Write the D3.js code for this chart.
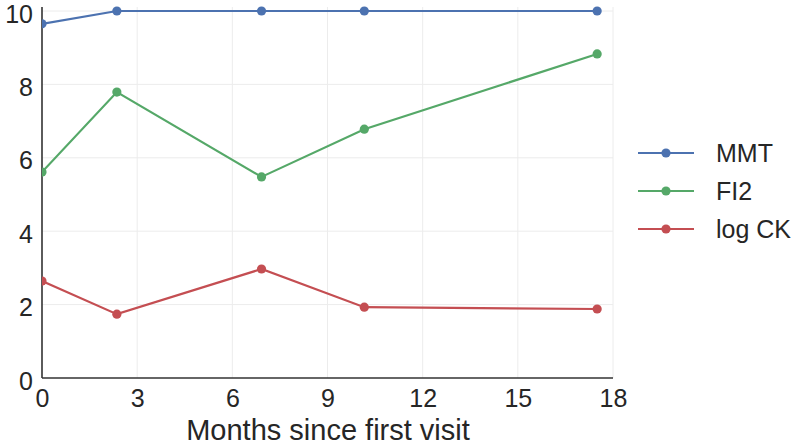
<!DOCTYPE html>
<html>
<head>
<meta charset="utf-8">
<script src="https://cdn.jsdelivr.net/npm/d3@7"></script>
<style>
  body { margin: 0; background: #fff; }
  text { font-family: "Liberation Sans", Arial, sans-serif; fill: #262626; }
</style>
</head>
<body>
<div id="chart"></div>
<script>
// data
const months = [0, 2.36, 6.92, 10.16, 17.5];
const mmt = [9.65, 10, 10, 10, 10];
const fi2 = [5.61, 7.79, 5.48, 6.78, 8.83];
const logCk = [2.64, 1.74, 2.97, 1.93, 1.88];
const seriesNames = ["MMT", "FI2", "log CK"];
const xTicks = [0, 3, 6, 9, 12, 15, 18];
const yTicks = [0, 2, 4, 6, 8, 10];

const colors = ["#4C72B0", "#55A868", "#C44E52"];
const series = [mmt, fi2, logCk];

const w = 800, h = 447;
const padLeft = 42, padRight = 613, padTop = 7, padBottom = 378;

const xScale = d3.scaleLinear().domain([0, 18]).range([padLeft, padRight]);
const yScale = d3.scaleLinear().domain([0, 10]).range([padBottom, 11]);

const svg = d3.select("#chart").append("svg")
  .attr("width", w).attr("height", h);

svg.append("clipPath").attr("id", "plot")
  .append("rect")
  .attr("x", padLeft).attr("y", 0)
  .attr("width", padRight - padLeft).attr("height", padBottom);

// grid
svg.append("g")
  .selectAll("line")
  .data(xTicks.slice(1))
  .enter().append("line")
  .attr("x1", d => xScale(d)).attr("x2", d => xScale(d))
  .attr("y1", padTop).attr("y2", padBottom)
  .attr("stroke", "#ececec").attr("stroke-width", 1);

svg.append("g")
  .selectAll("line")
  .data(yTicks.slice(1))
  .enter().append("line")
  .attr("x1", padLeft).attr("x2", padRight)
  .attr("y1", d => yScale(d)).attr("y2", d => yScale(d))
  .attr("stroke", "#ececec").attr("stroke-width", 1);

// axes
const xAxis = d3.axisBottom(xScale).tickValues(xTicks).tickSize(0).tickPadding(11);
const yAxis = d3.axisLeft(yScale).tickValues(yTicks).tickSize(0).tickPadding(9);

const gx = svg.append("g")
  .attr("transform", "translate(0," + padBottom + ")")
  .call(xAxis);
gx.select(".domain").remove();
gx.selectAll("text").style("font-size", "25px").attr("fill", "#262626");

const gy = svg.append("g")
  .attr("transform", "translate(" + padLeft + ",0)")
  .call(yAxis);
gy.select(".domain").remove();
gy.selectAll("text").style("font-size", "25px").attr("fill", "#262626")
  .attr("dy", "0.44em");

svg.append("line")
  .attr("x1", padLeft).attr("x2", padLeft).attr("y1", padTop).attr("y2", padBottom)
  .attr("stroke", "#333").attr("stroke-width", 1.6);
svg.append("line")
  .attr("x1", padLeft).attr("x2", padRight).attr("y1", padBottom).attr("y2", padBottom)
  .attr("stroke", "#333").attr("stroke-width", 1.6);

svg.append("text")
  .attr("x", 328).attr("y", 440)
  .attr("text-anchor", "middle")
  .style("font-size", "29px")
  .text("Months since first visit");

// lines and points
const line = d3.line().x((d, i) => xScale(months[i])).y(d => yScale(d));
const plot = svg.append("g").attr("clip-path", "url(#plot)");

series.forEach((vals, k) => {
  plot.append("path")
    .datum(vals)
    .attr("d", line)
    .attr("fill", "none")
    .attr("stroke", colors[k])
    .attr("stroke-width", 2.2);
  plot.selectAll("circle.s" + k)
    .data(vals)
    .enter().append("circle")
    .attr("class", "s" + k)
    .attr("cx", (d, i) => xScale(months[i]))
    .attr("cy", d => yScale(d))
    .attr("r", 4.6)
    .attr("fill", colors[k]);
});

// legend
const legend = svg.append("g");
seriesNames.forEach((name, k) => {
  const y = 153 + k * 38;
  legend.append("line")
    .attr("x1", 638).attr("x2", 694).attr("y1", y).attr("y2", y)
    .attr("stroke", colors[k]).attr("stroke-width", 2.2);
  legend.append("circle")
    .attr("cx", 666).attr("cy", y).attr("r", 4.6).attr("fill", colors[k]);
  legend.append("text")
    .attr("x", 716).attr("y", y + 9)
    .style("font-size", "25px")
    .text(name);
});
</script>
</body>
</html>
